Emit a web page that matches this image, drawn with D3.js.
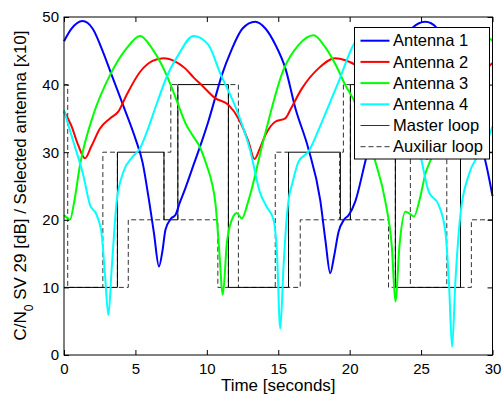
<!DOCTYPE html>
<html>
<head>
<meta charset="utf-8">
<script src="https://cdn.jsdelivr.net/npm/d3@7"></script>
<style>
  body { margin: 0; background: #fff; }
  svg { font-family: "Liberation Sans", Arial, sans-serif; }
</style>
</head>
<body>
<div id="chart"></div>
<script>
// time [s] and C/N0 readings per antenna
const ant1T = [0, 0.5, 1.3, 2.0, 2.7, 3.34, 4.13, 5.0, 5.5, 5.95, 6.3, 6.65, 6.9, 7.1, 7.5, 7.8, 8.1, 8.5, 9.1, 9.65, 10.1, 10.58, 11.05, 11.7, 12.5, 13.38, 14.1, 14.8, 15.5, 16.2, 17.1, 17.94, 18.3, 18.64, 18.9, 19.22, 19.6, 19.93, 20.39, 21.09, 22.03, 22.7, 23.5, 24.4, 25.3, 26.1, 26.8, 27.4, 28.1, 28.9, 29.4, 30];
const ant1V = [46.4, 48.2, 49.4, 48.3, 45.0, 41.4, 37.0, 32.0, 28.5, 22.9, 18.0, 13.1, 15.5, 18.5, 20.2, 20.7, 22.5, 24.7, 28.3, 31.6, 34.5, 38.0, 41.4, 45.0, 48.3, 49.3, 48.3, 45.9, 42.4, 36.5, 30.6, 22.9, 17.0, 12.1, 14.5, 18.2, 20.0, 20.7, 22.7, 28.6, 36.5, 41.0, 45.5, 48.4, 49.3, 48.4, 45.5, 41.4, 37.0, 32.0, 29.5, 23.5];

const ant2T = [0, 0.5, 1.0, 1.47, 1.9, 2.52, 3.22, 3.8, 4.39, 5.33, 6.2, 6.96, 7.8, 8.48, 9.1, 9.65, 10.58, 11.51, 12.21, 12.91, 13.34, 13.7, 14.09, 14.79, 15.49, 15.9, 16.65, 17.82, 18.99, 19.7, 20.39, 21.5, 22.5, 23.5, 24.2, 24.9, 25.4, 25.9, 26.5, 27.2, 27.9, 28.5, 29.3, 30];
const ant2V = [36.0, 34.0, 31.0, 29.1, 30.8, 33.5, 35.0, 36.0, 38.5, 41.9, 43.5, 43.9, 43.4, 42.4, 41.0, 39.9, 38.0, 37.0, 35.0, 31.6, 29.0, 30.5, 32.5, 34.5, 35.0, 36.5, 39.4, 42.4, 43.9, 43.6, 42.9, 40.3, 38.3, 37.0, 35.0, 31.6, 29.0, 31.0, 33.5, 35.0, 36.0, 38.3, 41.6, 43.2];

const ant3T = [0, 0.2, 0.42, 0.7, 1.12, 2.05, 3.22, 4.39, 5.33, 6.15, 6.85, 7.5, 8.0, 8.5, 9.0, 9.5, 10.0, 10.35, 10.6, 10.85, 11.12, 11.4, 11.75, 12.1, 12.45, 12.92, 13.97, 15.37, 16.4, 17.47, 18.3, 19.1, 19.7, 20.4, 21.0, 21.4, 21.8, 22.5, 22.96, 23.2, 23.5, 23.9, 24.13, 24.5, 24.9, 25.3, 25.8, 26.3, 27.3, 28.4, 29.4, 30];
const ant3V = [20.7, 20.3, 20.0, 22.5, 28.1, 35.5, 41.4, 45.4, 47.2, 45.4, 42.9, 39.8, 37.0, 34.3, 32.5, 30.8, 28.0, 25.5, 22.5, 16.0, 8.9, 16.5, 20.0, 21.0, 20.2, 22.9, 31.8, 42.2, 45.8, 47.3, 45.5, 42.6, 39.9, 37.2, 33.5, 31.5, 28.6, 22.7, 15.8, 7.9, 16.5, 21.2, 21.0, 20.5, 23.0, 26.8, 29.6, 33.5, 40.5, 45.2, 47.2, 46.5];

const ant4T = [0, 0.65, 1.35, 1.82, 2.29, 2.64, 2.87, 3.11, 3.34, 3.69, 4.16, 4.8, 5.33, 5.8, 6.5, 7.2, 8.01, 9.06, 10.1, 10.93, 12.1, 13.03, 13.74, 14.2, 14.67, 14.9, 15.14, 15.37, 15.6, 15.72, 16.0, 16.42, 17.12, 18.06, 19.22, 20.39, 21.06, 22.1, 22.9, 24.0, 24.95, 25.53, 26.23, 26.7, 26.95, 27.17, 27.4, 27.75, 28.33, 29.03, 29.5, 30];
const ant4V = [36.2, 31.6, 26.6, 22.2, 20.7, 17.8, 11.8, 5.9, 12.8, 22.7, 27.1, 29.3, 30.6, 33.0, 37.2, 41.2, 44.4, 47.2, 45.9, 41.7, 36.2, 30.3, 23.9, 21.9, 20.0, 15.5, 3.9, 13.1, 20.5, 22.9, 25.5, 28.6, 30.1, 34.5, 40.4, 46.3, 47.2, 45.9, 42.0, 36.5, 29.5, 24.2, 22.2, 18.2, 10.8, 1.2, 10.8, 20.7, 26.6, 29.6, 31.1, 33.8];

// selected antenna x10, value holds from its time until the next one
const masterT = [0, 3.74, 7.0, 7.97, 11.51, 15.72, 19.35, 20.05, 23.2, 27.76, 30];
const masterV = [10, 30, 20, 40, 10, 30, 20, 40, 10, 30, 30];
const auxT = [0, 0.26, 2.72, 3.74, 4.5, 7.0, 7.48, 7.97, 10.77, 11.51, 12.21, 14.79, 15.72, 16.54, 19.3, 19.56, 20.05, 22.72, 23.2, 24.25, 26.8, 27.76, 28.52, 30];
const auxV = [40, 10, 30, 10, 20, 30, 40, 20, 10, 40, 10, 30, 10, 20, 30, 40, 20, 10, 40, 10, 30, 10, 20, 20];

const xTicks = [0, 5, 10, 15, 20, 25, 30];
const yTicks = [0, 10, 20, 30, 40, 50];
const legendLabels = ['Antenna 1', 'Antenna 2', 'Antenna 3', 'Antenna 4', 'Master loop', 'Auxiliar loop'];
const colors = ['#0000ff', '#ff0000', '#00ff00', '#00ffff'];

const width = 503, height = 397;
const margin = {top: 17, right: 10.5, bottom: 42, left: 64};
const innerW = width - margin.left - margin.right;
const innerH = height - margin.top - margin.bottom;

const svg = d3.select('#chart').append('svg')
    .attr('width', width)
    .attr('height', height);

const x = d3.scaleLinear().domain([0, 30]).range([margin.left, margin.left + innerW]);
const y = d3.scaleLinear().domain([0, 50]).range([margin.top + innerH, margin.top]);

const zip = (ts, vs) => ts.map((t, i) => ({t: t, v: vs[i]}));

// step lines for the loops, drawn under the antenna curves
const step = d3.line().x(d => x(d.t)).y(d => y(d.v)).curve(d3.curveStepAfter);
svg.append('path')
    .attr('d', step(zip(auxT, auxV)))
    .attr('fill', 'none')
    .attr('stroke', '#333')
    .attr('stroke-width', 1)
    .attr('stroke-dasharray', '5,3');
svg.append('path')
    .attr('d', step(zip(masterT, masterV)))
    .attr('fill', 'none')
    .attr('stroke', '#000')
    .attr('stroke-width', 1);

const smooth = d3.line().x(d => x(d.t)).y(d => y(d.v)).curve(d3.curveMonotoneX);
const antennas = [zip(ant1T, ant1V), zip(ant2T, ant2V), zip(ant3T, ant3V), zip(ant4T, ant4V)];
antennas.forEach((pts, i) => {
  svg.append('path')
      .attr('d', smooth(pts))
      .attr('fill', 'none')
      .attr('stroke', colors[i])
      .attr('stroke-width', 2);
});

// axes: ticks inside on all four sides
const bottom = svg.append('g')
    .attr('transform', `translate(0,${margin.top + innerH})`)
    .call(d3.axisBottom(x).tickValues(xTicks).tickSize(-5).tickPadding(8.5));
const left = svg.append('g')
    .attr('transform', `translate(${margin.left},0)`)
    .call(d3.axisLeft(y).tickValues(yTicks).tickSize(-5).tickPadding(5));
svg.append('g')
    .attr('transform', `translate(0,${margin.top})`)
    .call(d3.axisTop(x).tickValues(xTicks).tickSize(-5).tickFormat(''));
svg.append('g')
    .attr('transform', `translate(${margin.left + innerW},0)`)
    .call(d3.axisRight(y).tickValues(yTicks).tickSize(-5).tickFormat(''));

svg.selectAll('.domain').remove();
svg.selectAll('.tick line').attr('stroke', '#000');
[bottom, left].forEach(g => g.selectAll('text')
    .attr('font-size', 15)
    .attr('font-family', '"Liberation Sans", Arial, sans-serif')
    .attr('fill', '#000'));

svg.append('rect')
    .attr('x', margin.left)
    .attr('y', margin.top)
    .attr('width', innerW)
    .attr('height', innerH)
    .attr('fill', 'none')
    .attr('stroke', '#000')
    .attr('stroke-width', 1);

// axis labels
svg.append('text')
    .attr('x', x(15))
    .attr('y', 391)
    .attr('text-anchor', 'middle')
    .attr('font-size', 17)
    .text('Time [seconds]');

const ylab = svg.append('text')
    .attr('transform', 'rotate(-90)')
    .attr('x', -185.5)
    .attr('y', 26)
    .attr('text-anchor', 'middle')
    .attr('font-size', 17);
ylab.append('tspan').text('C/N');
ylab.append('tspan').attr('baseline-shift', 'sub').attr('font-size', 12).text('0');
ylab.append('tspan').text(' SV 29 [dB] / Selected antenna [x10]');

// legend
const legend = svg.append('g').attr('transform', 'translate(354.5,27.5)');
legend.append('rect')
    .attr('width', 135)
    .attr('height', 131.5)
    .attr('fill', '#fff')
    .attr('stroke', '#000')
    .attr('stroke-width', 1);

const rows = legend.selectAll('.row')
    .data(legendLabels)
    .enter()
    .append('g')
    .attr('class', 'row')
    .attr('transform', (d, i) => `translate(0,${13.2 + i * 21.2})`);

rows.append('line')
    .attr('x1', 6)
    .attr('x2', 35)
    .attr('stroke', (d, i) => i < 4 ? colors[i] : '#333')
    .attr('stroke-width', (d, i) => i < 4 ? 2 : 1)
    .attr('stroke-dasharray', (d, i) => i === 5 ? '5,3' : null);

rows.append('text')
    .attr('x', 38.5)
    .attr('dy', '0.35em')
    .attr('font-size', 16.5)
    .text(d => d);
</script>
</body>
</html>
